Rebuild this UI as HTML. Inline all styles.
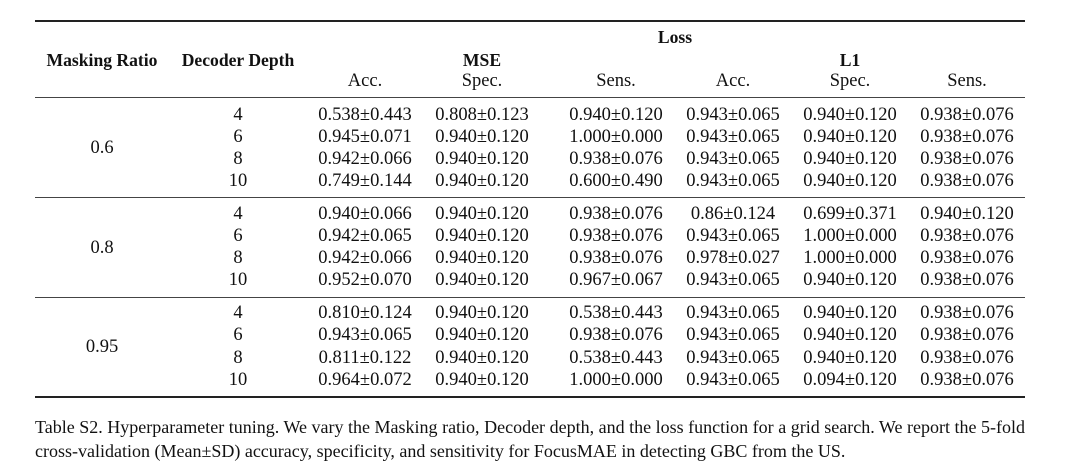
<!DOCTYPE html>
<html>
<head>
<meta charset="utf-8">
<style>
html,body{margin:0;padding:0;background:#fff;}
body{width:1080px;height:474px;position:relative;overflow:hidden;font-family:"Liberation Serif","DejaVu Serif",serif;color:#111;}
.t{position:absolute;width:200px;text-align:center;font-size:18.5px;line-height:20px;white-space:nowrap;}
.b{font-weight:bold;font-size:17.6px;}
.r{position:absolute;left:35px;width:990px;background:#222;}
.cap{position:absolute;left:35px;width:990px;font-size:18px;line-height:20px;white-space:nowrap;}
</style>
</head>
<body>
<div class="r" style="top:19.5px;height:2px;"></div>
<div class="r" style="top:97px;height:1.3px;background:#444;"></div>
<div class="r" style="top:197px;height:1.3px;background:#444;"></div>
<div class="r" style="top:296.5px;height:1.3px;background:#444;"></div>
<div class="r" style="top:395.5px;height:2px;"></div>

<div class="t b" style="left:575px;top:27px;">Loss</div>
<div class="t b" style="left:2px;top:50px;">Masking Ratio</div>
<div class="t b" style="left:138px;top:50px;">Decoder Depth</div>
<div class="t b" style="left:382px;top:50px;">MSE</div>
<div class="t b" style="left:750px;top:50px;">L1</div>
<div class="t" style="left:265px;top:71px;">Acc.</div>
<div class="t" style="left:382px;top:71px;">Spec.</div>
<div class="t" style="left:516px;top:71px;">Sens.</div>
<div class="t" style="left:633px;top:71px;">Acc.</div>
<div class="t" style="left:750px;top:71px;">Spec.</div>
<div class="t" style="left:867px;top:71px;">Sens.</div>

<div class="t" style="left:2px;top:138px;">0.6</div>
<div class="t" style="left:2px;top:238px;">0.8</div>
<div class="t" style="left:2px;top:337px;">0.95</div>

<!-- group 1 -->
<div class="t" style="left:138px;top:104.5px;">4</div>
<div class="t" style="left:265px;top:104.5px;">0.538±0.443</div>
<div class="t" style="left:382px;top:104.5px;">0.808±0.123</div>
<div class="t" style="left:516px;top:104.5px;">0.940±0.120</div>
<div class="t" style="left:633px;top:104.5px;">0.943±0.065</div>
<div class="t" style="left:750px;top:104.5px;">0.940±0.120</div>
<div class="t" style="left:867px;top:104.5px;">0.938±0.076</div>

<div class="t" style="left:138px;top:126.8px;">6</div>
<div class="t" style="left:265px;top:126.8px;">0.945±0.071</div>
<div class="t" style="left:382px;top:126.8px;">0.940±0.120</div>
<div class="t" style="left:516px;top:126.8px;">1.000±0.000</div>
<div class="t" style="left:633px;top:126.8px;">0.943±0.065</div>
<div class="t" style="left:750px;top:126.8px;">0.940±0.120</div>
<div class="t" style="left:867px;top:126.8px;">0.938±0.076</div>

<div class="t" style="left:138px;top:149px;">8</div>
<div class="t" style="left:265px;top:149px;">0.942±0.066</div>
<div class="t" style="left:382px;top:149px;">0.940±0.120</div>
<div class="t" style="left:516px;top:149px;">0.938±0.076</div>
<div class="t" style="left:633px;top:149px;">0.943±0.065</div>
<div class="t" style="left:750px;top:149px;">0.940±0.120</div>
<div class="t" style="left:867px;top:149px;">0.938±0.076</div>

<div class="t" style="left:138px;top:171.3px;">10</div>
<div class="t" style="left:265px;top:171.3px;">0.749±0.144</div>
<div class="t" style="left:382px;top:171.3px;">0.940±0.120</div>
<div class="t" style="left:516px;top:171.3px;">0.600±0.490</div>
<div class="t" style="left:633px;top:171.3px;">0.943±0.065</div>
<div class="t" style="left:750px;top:171.3px;">0.940±0.120</div>
<div class="t" style="left:867px;top:171.3px;">0.938±0.076</div>

<!-- group 2 -->
<div class="t" style="left:138px;top:203.5px;">4</div>
<div class="t" style="left:265px;top:203.5px;">0.940±0.066</div>
<div class="t" style="left:382px;top:203.5px;">0.940±0.120</div>
<div class="t" style="left:516px;top:203.5px;">0.938±0.076</div>
<div class="t" style="left:633px;top:203.5px;">0.86±0.124</div>
<div class="t" style="left:750px;top:203.5px;">0.699±0.371</div>
<div class="t" style="left:867px;top:203.5px;">0.940±0.120</div>

<div class="t" style="left:138px;top:225.8px;">6</div>
<div class="t" style="left:265px;top:225.8px;">0.942±0.065</div>
<div class="t" style="left:382px;top:225.8px;">0.940±0.120</div>
<div class="t" style="left:516px;top:225.8px;">0.938±0.076</div>
<div class="t" style="left:633px;top:225.8px;">0.943±0.065</div>
<div class="t" style="left:750px;top:225.8px;">1.000±0.000</div>
<div class="t" style="left:867px;top:225.8px;">0.938±0.076</div>

<div class="t" style="left:138px;top:248px;">8</div>
<div class="t" style="left:265px;top:248px;">0.942±0.066</div>
<div class="t" style="left:382px;top:248px;">0.940±0.120</div>
<div class="t" style="left:516px;top:248px;">0.938±0.076</div>
<div class="t" style="left:633px;top:248px;">0.978±0.027</div>
<div class="t" style="left:750px;top:248px;">1.000±0.000</div>
<div class="t" style="left:867px;top:248px;">0.938±0.076</div>

<div class="t" style="left:138px;top:270.3px;">10</div>
<div class="t" style="left:265px;top:270.3px;">0.952±0.070</div>
<div class="t" style="left:382px;top:270.3px;">0.940±0.120</div>
<div class="t" style="left:516px;top:270.3px;">0.967±0.067</div>
<div class="t" style="left:633px;top:270.3px;">0.943±0.065</div>
<div class="t" style="left:750px;top:270.3px;">0.940±0.120</div>
<div class="t" style="left:867px;top:270.3px;">0.938±0.076</div>

<!-- group 3 -->
<div class="t" style="left:138px;top:303px;">4</div>
<div class="t" style="left:265px;top:303px;">0.810±0.124</div>
<div class="t" style="left:382px;top:303px;">0.940±0.120</div>
<div class="t" style="left:516px;top:303px;">0.538±0.443</div>
<div class="t" style="left:633px;top:303px;">0.943±0.065</div>
<div class="t" style="left:750px;top:303px;">0.940±0.120</div>
<div class="t" style="left:867px;top:303px;">0.938±0.076</div>

<div class="t" style="left:138px;top:325.3px;">6</div>
<div class="t" style="left:265px;top:325.3px;">0.943±0.065</div>
<div class="t" style="left:382px;top:325.3px;">0.940±0.120</div>
<div class="t" style="left:516px;top:325.3px;">0.938±0.076</div>
<div class="t" style="left:633px;top:325.3px;">0.943±0.065</div>
<div class="t" style="left:750px;top:325.3px;">0.940±0.120</div>
<div class="t" style="left:867px;top:325.3px;">0.938±0.076</div>

<div class="t" style="left:138px;top:347.5px;">8</div>
<div class="t" style="left:265px;top:347.5px;">0.811±0.122</div>
<div class="t" style="left:382px;top:347.5px;">0.940±0.120</div>
<div class="t" style="left:516px;top:347.5px;">0.538±0.443</div>
<div class="t" style="left:633px;top:347.5px;">0.943±0.065</div>
<div class="t" style="left:750px;top:347.5px;">0.940±0.120</div>
<div class="t" style="left:867px;top:347.5px;">0.938±0.076</div>

<div class="t" style="left:138px;top:369.8px;">10</div>
<div class="t" style="left:265px;top:369.8px;">0.964±0.072</div>
<div class="t" style="left:382px;top:369.8px;">0.940±0.120</div>
<div class="t" style="left:516px;top:369.8px;">1.000±0.000</div>
<div class="t" style="left:633px;top:369.8px;">0.943±0.065</div>
<div class="t" style="left:750px;top:369.8px;">0.094±0.120</div>
<div class="t" style="left:867px;top:369.8px;">0.938±0.076</div>

<div class="cap" style="top:417px;text-align:justify;text-align-last:justify;">Table S2. Hyperparameter tuning. We vary the Masking ratio, Decoder depth, and the loss function for a grid search. We report the 5-fold</div>
<div class="cap" style="top:441px;">cross-validation (Mean±SD) accuracy, specificity, and sensitivity for FocusMAE in detecting GBC from the US.</div>
</body>
</html>
